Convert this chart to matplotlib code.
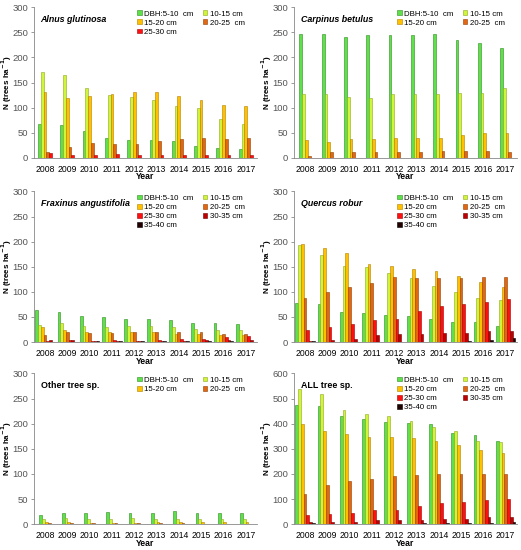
import numpy as np
import matplotlib.pyplot as plt

plt.rcParams['font.family'] = ['Liberation Sans', 'DejaVu Sans']

years = [2008, 2009, 2010, 2011, 2012, 2013, 2014, 2015, 2016, 2017]
classes = ["DBH:5-10  cm", "10-15 cm", "15-20 cm", "20-25  cm", "25-30 cm", "30-35 cm", "35-40 cm"]
colors = ["#5FE04A", "#CFF53A", "#FFC000", "#E2670E", "#FF1010", "#C00000", "#220000"]
edges = ["#2E8B1E", "#8FA81E", "#B07F00", "#8F3F05", "#A00000", "#700000", "#000000"]

# N trees/ha per diameter class, one row per class, one value per year
alnus = [
    [68, 65, 53, 39, 35, 35, 33, 23, 19, 17],
    [170, 164, 140, 126, 122, 116, 104, 100, 77, 67],
    [132, 120, 124, 128, 132, 132, 124, 116, 106, 104],
    [12, 21, 30, 27, 27, 33, 37, 39, 37, 39],
    [10, 5, 5, 7, 5, 5, 5, 5, 5, 5],
]
carpinus = [
    [247, 247, 241, 244, 244, 244, 247, 235, 229, 219],
    [127, 128, 122, 120, 128, 127, 127, 130, 130, 140],
    [36, 31, 37, 38, 39, 40, 40, 45, 49, 49],
    [3, 11, 11, 11, 11, 11, 14, 14, 14, 11],
]
fraxinus = [
    [63, 59, 52, 50, 45, 45, 44, 39, 39, 37],
    [35, 39, 32, 31, 32, 32, 31, 27, 25, 25],
    [30, 25, 21, 21, 21, 20, 17, 17, 15, 15],
    [15, 20, 19, 19, 21, 21, 21, 21, 17, 17],
    [3, 5, 2, 4, 3, 5, 7, 7, 11, 12],
    [5, 5, 2, 2, 2, 2, 2, 4, 4, 5],
    [0, 0, 2, 2, 2, 2, 2, 2, 2, 0],
]
quercus = [
    [77, 75, 60, 58, 54, 52, 46, 40, 40, 32],
    [194, 174, 152, 149, 138, 128, 112, 100, 88, 84],
    [195, 188, 177, 155, 152, 146, 142, 132, 120, 110],
    [87, 99, 109, 118, 130, 128, 127, 127, 130, 130],
    [25, 31, 37, 43, 45, 61, 71, 75, 79, 85],
    [3, 5, 7, 15, 17, 17, 19, 19, 23, 23],
    [3, 0, 0, 0, 0, 1, 1, 3, 5, 8],
]
other = [
    [18, 23, 23, 25, 23, 23, 27, 23, 23, 23],
    [10, 12, 10, 10, 12, 10, 10, 10, 10, 10],
    [5, 4, 3, 3, 3, 5, 4, 5, 5, 5],
    [3, 3, 3, 3, 3, 3, 3, 0, 0, 0],
]
alltrees = [
    [473, 470, 430, 418, 405, 402, 400, 362, 355, 332],
    [537, 517, 455, 437, 432, 412, 385, 370, 332, 328],
    [397, 370, 360, 345, 348, 343, 330, 317, 297, 285],
    [120, 157, 172, 178, 192, 197, 200, 200, 200, 200],
    [37, 42, 45, 55, 55, 73, 85, 88, 95, 102],
    [8, 10, 8, 17, 18, 18, 20, 22, 27, 28],
    [3, 0, 2, 2, 2, 3, 3, 5, 5, 7],
]

panels = [
    ("Alnus glutinosa", alnus, 300, 50, "italic"),
    ("Carpinus betulus", carpinus, 300, 50, "italic"),
    ("Fraxinus angustifolia", fraxinus, 300, 50, "italic"),
    ("Quercus robur", quercus, 300, 50, "italic"),
    ("Other tree sp.", other, 300, 50, "normal"),
    ("ALL tree sp.", alltrees, 600, 100, "normal"),
]

fig = plt.figure(figsize=(5.21, 5.5), dpi=100)
lefts = [0.065, 0.564]
bottoms = [0.713, 0.378, 0.047]
w = 0.125
x = np.arange(len(years))

for i, (name, data, ymax, step, fs) in enumerate(panels):
    ax = fig.add_axes([lefts[i % 2], bottoms[i // 2], 0.428, 0.274])
    n = len(data)
    bars = []
    for j, vals in enumerate(data):
        pos = x - n * w / 2 + w * (j + 0.5)
        b = ax.bar(pos, vals, width=w, color=colors[j], edgecolor=edges[j],
                   linewidth=0.4, label=classes[j])
        bars.append(b)
    ax.set_xlim(-0.5, len(years) - 0.5)
    ax.set_ylim(0, ymax)
    ax.set_yticks(np.arange(0, ymax + 1, step))
    ax.set_xticks(x)
    ax.set_xticklabels(years)
    ax.tick_params(axis='x', length=0, labelsize=6.2, pad=5)
    ax.tick_params(axis='y', length=2, width=0.6, color="#888888",
                   labelsize=6.8, labelcolor="#555555", pad=2)
    for s in ["top", "right"]:
        ax.spines[s].set_visible(False)
    for s in ["left", "bottom"]:
        ax.spines[s].set_color("#888888")
        ax.spines[s].set_linewidth(0.6)
    ax.set_xlabel("Year", fontsize=6.2, fontweight="bold", labelpad=-1)
    ax.set_ylabel("N (trees ha$^{\\mathbf{-1}}$)", fontsize=5.8, fontweight="bold")
    ax.yaxis.set_label_coords(-0.09, 0.5)
    ax.text(0.03, 0.92, name, transform=ax.transAxes, fontsize=6.4,
            fontweight="bold", fontstyle=fs, va="center")
    # legend filled row by row like the original
    order = list(range(0, n, 2)) + list(range(1, n, 2))
    ax.legend([bars[k] for k in order], [classes[k] for k in order],
              ncol=2, loc="upper left", bbox_to_anchor=(0.45, 1.0),
              frameon=False, fontsize=5.7, handlelength=0.55,
              handleheight=0.55, handletextpad=0.3, columnspacing=1.2,
              labelspacing=0.25, borderaxespad=0)

plt.savefig("out.png", dpi=100)
